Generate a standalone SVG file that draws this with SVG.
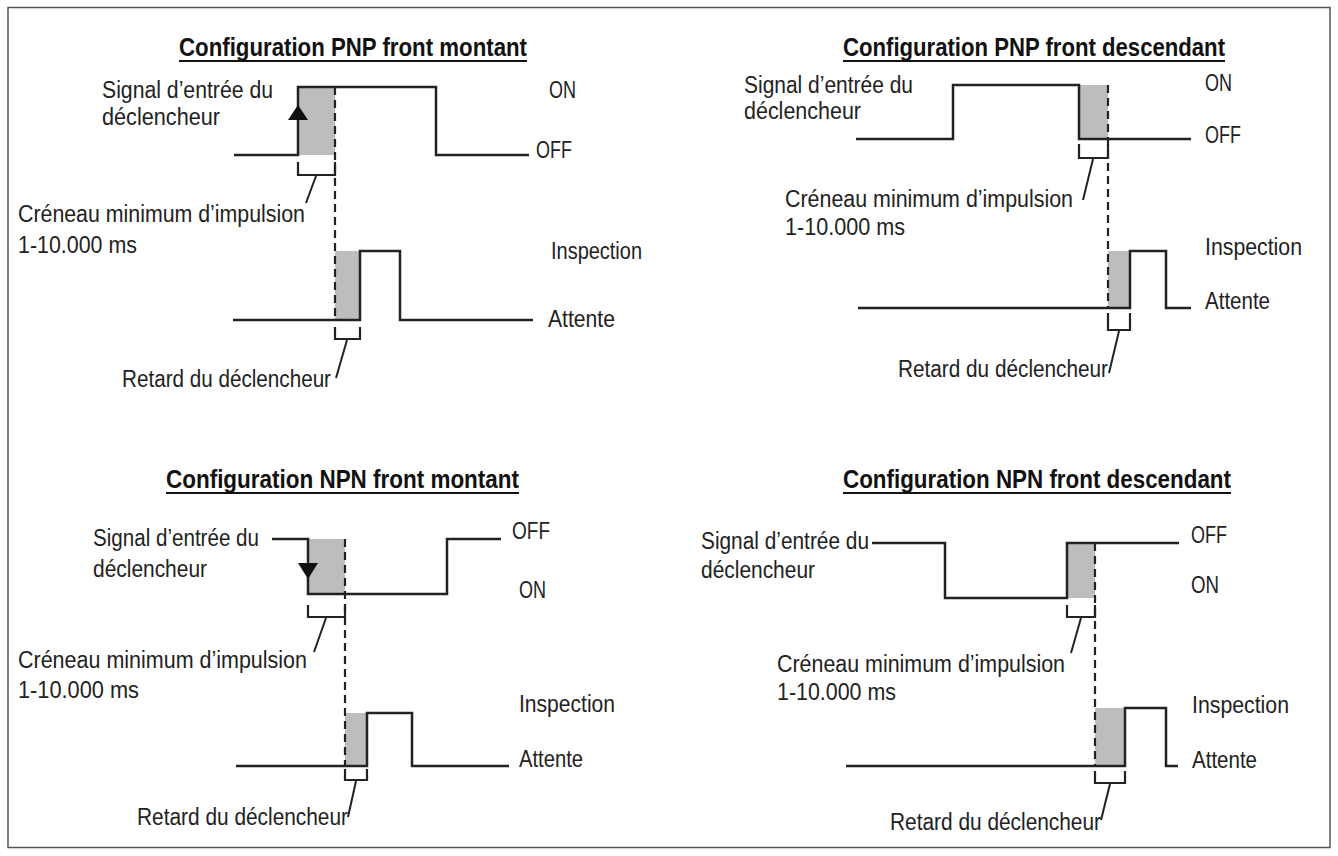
<svg xmlns="http://www.w3.org/2000/svg" width="1338" height="856" viewBox="0 0 1338 856">
<defs>
<style>
.bg{fill:#ffffff}
.frame{fill:none;stroke:#555555;stroke-width:1.5}
.t{font-family:"Liberation Sans",Arial,sans-serif;font-size:23.5px;fill:#222222}
.h{font-family:"Liberation Sans",Arial,sans-serif;font-size:25.5px;font-weight:bold;fill:#111111}
.ul{stroke:#111111;stroke-width:2}
.w{fill:none;stroke:#222222;stroke-width:2.5;stroke-linejoin:miter}
.g{fill:#bdbdbd}
.d{fill:none;stroke:#222222;stroke-width:2.2;stroke-dasharray:8,5}
.b{fill:none;stroke:#222222;stroke-width:2.2}
.l{fill:none;stroke:#222222;stroke-width:2}
.a{fill:#111111}
</style>
</defs>
<rect class="bg" x="0" y="0" width="1338" height="856"/>
<rect class="frame" x="8" y="7.5" width="1322" height="840"/>

<g id="panel-pnp-montant">
<text class="h" x="179" y="56" textLength="348" lengthAdjust="spacingAndGlyphs">Configuration PNP front montant</text>
<line class="ul" x1="179" y1="61" x2="527" y2="61"/>
<rect class="g" x="298" y="87" width="37" height="68"/>
<rect class="g" x="335" y="251" width="25" height="69"/>
<path class="w" d="M234,155 H298 V87 H436 V155 H529"/>
<path class="w" d="M233,320 H360 V251 H400 V320 H533"/>
<polygon class="a" points="298,105 288,120 308,120"/>
<text class="t" x="102" y="98" textLength="171" lengthAdjust="spacingAndGlyphs">Signal d’entrée du</text>
<text class="t" x="102" y="125" textLength="118" lengthAdjust="spacingAndGlyphs">déclencheur</text>
<text class="t" x="549" y="98" textLength="27" lengthAdjust="spacingAndGlyphs">ON</text>
<text class="t" x="536" y="158" textLength="36" lengthAdjust="spacingAndGlyphs">OFF</text>
<text class="t" x="18" y="222" textLength="287" lengthAdjust="spacingAndGlyphs">Créneau minimum d’impulsion</text>
<text class="t" x="18" y="253" textLength="119" lengthAdjust="spacingAndGlyphs">1-10.000 ms</text>
<text class="t" x="551" y="259" textLength="91" lengthAdjust="spacingAndGlyphs">Inspection</text>
<text class="t" x="548" y="327" textLength="67" lengthAdjust="spacingAndGlyphs">Attente</text>
<text class="t" x="122" y="387" textLength="209" lengthAdjust="spacingAndGlyphs">Retard du déclencheur</text>
</g>

<g id="panel-pnp-descendant">
<text class="h" x="843" y="56" textLength="382" lengthAdjust="spacingAndGlyphs">Configuration PNP front descendant</text>
<line class="ul" x1="843" y1="61" x2="1225" y2="61"/>
<rect class="g" x="1079" y="85" width="29" height="54"/>
<rect class="g" x="1108" y="251" width="22" height="57"/>
<path class="w" d="M856,139 H953 V85 H1079 V139 H1191"/>
<path class="w" d="M858,308 H1130 V251 H1166 V308 H1191"/>
<text class="t" x="744" y="93" textLength="169" lengthAdjust="spacingAndGlyphs">Signal d’entrée du</text>
<text class="t" x="744" y="119" textLength="117" lengthAdjust="spacingAndGlyphs">déclencheur</text>
<text class="t" x="1205" y="91" textLength="27" lengthAdjust="spacingAndGlyphs">ON</text>
<text class="t" x="1205" y="143" textLength="36" lengthAdjust="spacingAndGlyphs">OFF</text>
<text class="t" x="785" y="207" textLength="288" lengthAdjust="spacingAndGlyphs">Créneau minimum d’impulsion</text>
<text class="t" x="785" y="235" textLength="120" lengthAdjust="spacingAndGlyphs">1-10.000 ms</text>
<text class="t" x="1205" y="255" textLength="97" lengthAdjust="spacingAndGlyphs">Inspection</text>
<text class="t" x="1205" y="309" textLength="65" lengthAdjust="spacingAndGlyphs">Attente</text>
<text class="t" x="898" y="377" textLength="210" lengthAdjust="spacingAndGlyphs">Retard du déclencheur</text>
</g>

<g id="panel-npn-montant">
<text class="h" x="166" y="488" textLength="353" lengthAdjust="spacingAndGlyphs">Configuration NPN front montant</text>
<line class="ul" x1="166" y1="493" x2="519" y2="493"/>
<rect class="g" x="308" y="539" width="37" height="55"/>
<rect class="g" x="345" y="713" width="22" height="53"/>
<path class="w" d="M272,539 H308 V594 H447 V539 H501"/>
<path class="w" d="M236,766 H367 V713 H412 V766 H509"/>
<polygon class="a" points="308,579 298,563 318,563"/>
<text class="t" x="93" y="546" textLength="166" lengthAdjust="spacingAndGlyphs">Signal d’entrée du</text>
<text class="t" x="93" y="577" textLength="114" lengthAdjust="spacingAndGlyphs">déclencheur</text>
<text class="t" x="512" y="539" textLength="38" lengthAdjust="spacingAndGlyphs">OFF</text>
<text class="t" x="519" y="598" textLength="27" lengthAdjust="spacingAndGlyphs">ON</text>
<text class="t" x="18" y="668" textLength="289" lengthAdjust="spacingAndGlyphs">Créneau minimum d’impulsion</text>
<text class="t" x="18" y="698" textLength="121" lengthAdjust="spacingAndGlyphs">1-10.000 ms</text>
<text class="t" x="519" y="712" textLength="96" lengthAdjust="spacingAndGlyphs">Inspection</text>
<text class="t" x="519" y="767" textLength="64" lengthAdjust="spacingAndGlyphs">Attente</text>
<text class="t" x="137" y="825" textLength="211" lengthAdjust="spacingAndGlyphs">Retard du déclencheur</text>
</g>

<g id="panel-npn-descendant">
<text class="h" x="843" y="488" textLength="388" lengthAdjust="spacingAndGlyphs">Configuration NPN front descendant</text>
<line class="ul" x1="843" y1="493" x2="1231" y2="493"/>
<rect class="g" x="1067" y="543" width="28" height="55"/>
<rect class="g" x="1095" y="708" width="30" height="58"/>
<path class="w" d="M872,543 H945 V598 H1067 V543 H1179"/>
<path class="w" d="M846,766 H1125 V708 H1166 V766 H1178"/>
<text class="t" x="701" y="549" textLength="168" lengthAdjust="spacingAndGlyphs">Signal d’entrée du</text>
<text class="t" x="701" y="578" textLength="114" lengthAdjust="spacingAndGlyphs">déclencheur</text>
<text class="t" x="1191" y="543" textLength="36" lengthAdjust="spacingAndGlyphs">OFF</text>
<text class="t" x="1191" y="593" textLength="28" lengthAdjust="spacingAndGlyphs">ON</text>
<text class="t" x="777" y="672" textLength="288" lengthAdjust="spacingAndGlyphs">Créneau minimum d’impulsion</text>
<text class="t" x="777" y="700" textLength="119" lengthAdjust="spacingAndGlyphs">1-10.000 ms</text>
<text class="t" x="1192" y="713" textLength="97" lengthAdjust="spacingAndGlyphs">Inspection</text>
<text class="t" x="1192" y="768" textLength="65" lengthAdjust="spacingAndGlyphs">Attente</text>
<text class="t" x="890" y="830" textLength="211" lengthAdjust="spacingAndGlyphs">Retard du déclencheur</text>
</g>

<g id="connectors">
<line class="d" x1="335" y1="87" x2="335" y2="320"/>
<path class="b" d="M298,162 V175 H335 V162"/>
<line class="l" x1="316" y1="176" x2="306" y2="203"/>
<path class="b" d="M335,327 V339 H360 V327"/>
<line class="l" x1="347" y1="340" x2="336" y2="378"/>

<line class="d" x1="1108" y1="85" x2="1108" y2="308"/>
<path class="b" d="M1079,144 V158 H1108 V144"/>
<line class="l" x1="1093" y1="159" x2="1083" y2="200"/>
<path class="b" d="M1108,313 V330 H1130 V313"/>
<line class="l" x1="1119" y1="331" x2="1109" y2="373"/>

<line class="d" x1="345" y1="539" x2="345" y2="766"/>
<path class="b" d="M308,605 V617 H345 V605"/>
<line class="l" x1="326" y1="618" x2="314" y2="652"/>
<path class="b" d="M345,769 V780 H367 V769"/>
<line class="l" x1="356" y1="781" x2="348" y2="817"/>

<line class="d" x1="1095" y1="543" x2="1095" y2="766"/>
<path class="b" d="M1067,605 V617 H1095 V605"/>
<line class="l" x1="1081" y1="618" x2="1071" y2="653"/>
<path class="b" d="M1095,771 V783 H1125 V771"/>
<line class="l" x1="1110" y1="784" x2="1101" y2="820"/>
</g>
</svg>
